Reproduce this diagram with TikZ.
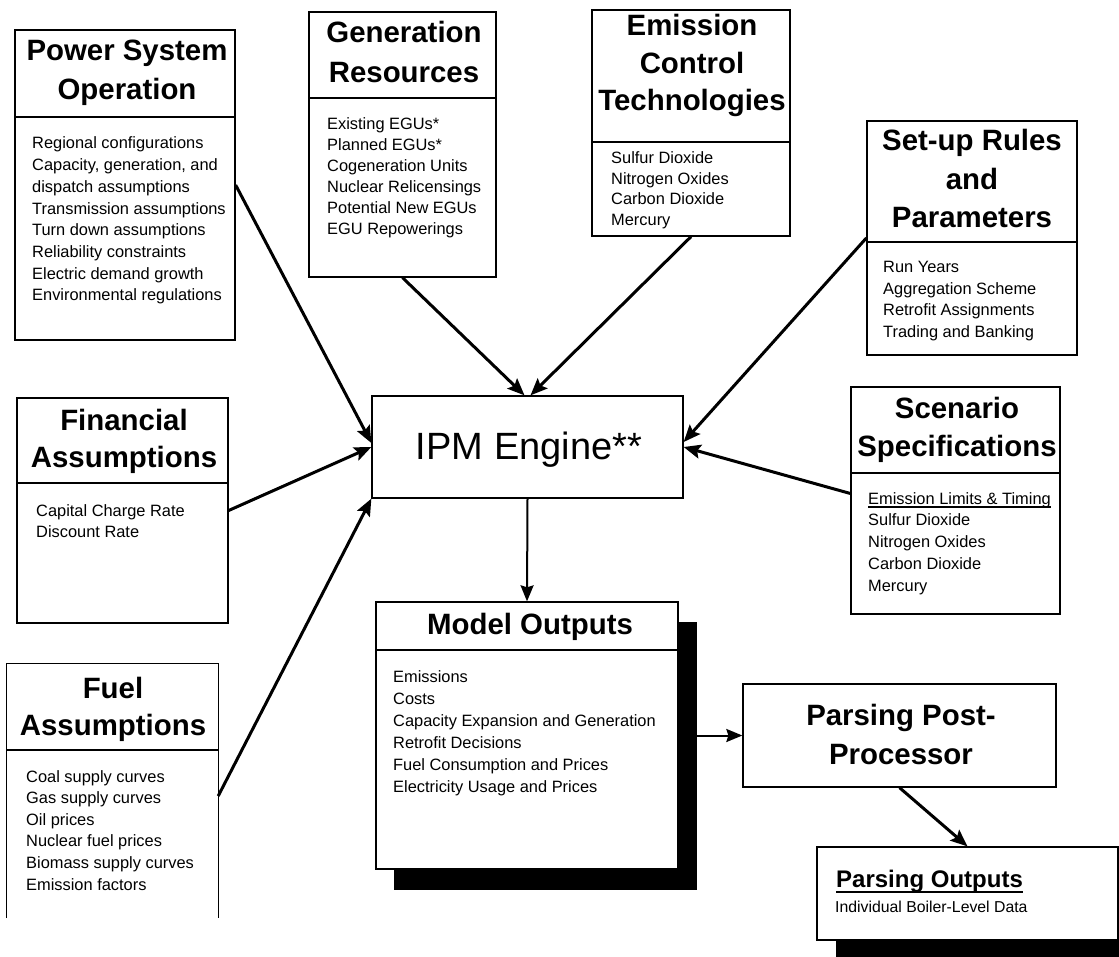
\documentclass[tikz,border=0pt]{standalone}
\usepackage{fontspec}
\setmainfont{Liberation Sans}
\usetikzlibrary{arrows.meta}
\newcommand\bodysz{\fontsize{16.4}{21.7}\selectfont}
\newcommand\titlesz{\fontsize{29.4}{39}\selectfont\bfseries}
\tikzset{
  box/.style={draw, line width=1.3pt, fill=white, rectangle, inner sep=0pt},
  openbox/.style={draw=none, rectangle, inner sep=0pt},
  shadowbox/.style={fill=black, draw=none, rectangle, inner sep=0pt},
  ttl/.style={anchor=base, inner sep=0pt, font=\titlesz},
  bodytxt/.style={anchor=base west, inner sep=0pt, font=\bodysz},
  divider/.style={line width=1.3pt},
  conn/.style={line width=3pt, -{Stealth[length=17pt,width=14pt,inset=3pt]}},
  thinconn/.style={line width=2pt, -{Stealth[length=16pt,width=13pt,inset=2pt]}}
}
\begin{document}
\begin{tikzpicture}[x=1pt,y=-1pt]
\fill[white] (0,0) rectangle (1119,957);
\useasboundingbox (0,0) rectangle (1119,957);

% ---------- shadows ----------
\node[shadowbox, minimum width=303pt, minimum height=268pt] (modelsh) at (545.5,756) {};
\node[shadowbox, minimum width=283pt, minimum height=90pt] (poutsh) at (977.5,912) {};

% ---------- Power System Operation ----------
\node[box, minimum width=220pt, minimum height=310pt] (pso) at (125,185) {};
\draw[divider] (pso.west |- 0,117) -- (pso.east |- 0,117);
\node[ttl] (pso-t1) at (127,61) {Power System};
\node[ttl] (pso-t2) at (127,100) {Operation};
\foreach \t [count=\i] in {Regional configurations,{Capacity, generation, and},dispatch assumptions,Transmission assumptions,Turn down assumptions,Reliability constraints,Electric demand growth,Environmental regulations}
  \node[bodytxt] (pso-\i) at (32,{149+21.7*(\i-1)}) {\t};

% ---------- Generation Resources ----------
\node[box, minimum width=187pt, minimum height=265pt] (gen) at (402.5,144.5) {};
\draw[divider] (gen.west |- 0,98) -- (gen.east |- 0,98);
\node[ttl] (gen-t1) at (404,43) {Generation};
\node[ttl] (gen-t2) at (404,83) {Resources};
\foreach \t [count=\i] in {Existing EGUs*,Planned EGUs*,Cogeneration Units,Nuclear Relicensings,Potential New EGUs,EGU Repowerings}
  \node[bodytxt] (gen-\i) at (327,{130+21*(\i-1)}) {\t};

% ---------- Emission Control Technologies ----------
\node[box, minimum width=198pt, minimum height=226pt] (emc) at (691,123) {};
\draw[divider] (emc.west |- 0,142) -- (emc.east |- 0,142);
\node[ttl] (emc-t1) at (692,36) {Emission};
\node[ttl] (emc-t2) at (692,74) {Control};
\node[ttl] (emc-t3) at (692,111) {Technologies};
\foreach \t [count=\i] in {Sulfur Dioxide,Nitrogen Oxides,Carbon Dioxide,Mercury}
  \node[bodytxt] (emc-\i) at (611,{164+20.5*(\i-1)}) {\t};

% ---------- Set-up Rules and Parameters ----------
\node[box, minimum width=210pt, minimum height=234pt] (setup) at (972,238) {};
\draw[divider] (setup.west |- 0,242) -- (setup.east |- 0,242);
\node[ttl] (setup-t1) at (972,151) {Set-up Rules};
\node[ttl] (setup-t2) at (972,190) {and};
\node[ttl] (setup-t3) at (972,228) {Parameters};
\foreach \t [count=\i] in {Run Years,Aggregation Scheme,Retrofit Assignments,Trading and Banking}
  \node[bodytxt] (setup-\i) at (883,{273+21.5*(\i-1)}) {\t};

% ---------- Financial Assumptions ----------
\node[box, minimum width=211pt, minimum height=225pt] (fin) at (122.5,510.5) {};
\draw[divider] (fin.west |- 0,483) -- (fin.east |- 0,483);
\node[ttl] (fin-t1) at (124,430) {Financial};
\node[ttl] (fin-t2) at (124,467) {Assumptions};
\foreach \t [count=\i] in {Capital Charge Rate,Discount Rate}
  \node[bodytxt] (fin-\i) at (36,{516+21.5*(\i-1)}) {\t};

% ---------- Fuel Assumptions (cut off at bottom) ----------
\node[openbox, minimum width=211pt, minimum height=254pt] (fuel) at (112.5,791) {};
\draw[line width=1.3pt] (fuel.south west) -- (fuel.north west) -- (fuel.north east) -- (fuel.south east);
\draw[divider] (fuel.west |- 0,750) -- (fuel.east |- 0,750);
\node[ttl] (fuel-t1) at (113,698) {Fuel};
\node[ttl] (fuel-t2) at (113,735) {Assumptions};
\foreach \t [count=\i] in {Coal supply curves,Gas supply curves,Oil prices,Nuclear fuel prices,Biomass supply curves,Emission factors}
  \node[bodytxt] (fuel-\i) at (26,{782+21.6*(\i-1)}) {\t};

% ---------- IPM Engine ----------
\node[box, minimum width=311pt, minimum height=102pt] (ipm) at (527.5,447) {};
\node[anchor=base, inner sep=0pt, font=\fontsize{38}{44}\selectfont] (ipm-t) at (529,459) {IPM Engine**};

% ---------- Scenario Specifications ----------
\node[box, minimum width=209pt, minimum height=227pt] (scen) at (955.5,500.5) {};
\draw[divider] (scen.west |- 0,473) -- (scen.east |- 0,473);
\node[ttl] (scen-t1) at (957,418) {Scenario};
\node[ttl] (scen-t2) at (957,456) {Specifications};
\node[bodytxt] (scen-0) at (868,504) {Emission Limits \& Timing};
\draw[line width=1.1pt] ([yshift=-3pt]scen-0.base west) -- ([yshift=-3pt]scen-0.base east);
\foreach \t [count=\i] in {Sulfur Dioxide,Nitrogen Oxides,Carbon Dioxide,Mercury}
  \node[bodytxt] (scen-\i) at (868,{504+21.9*\i}) {\t};

% ---------- Model Outputs ----------
\node[box, minimum width=302pt, minimum height=267pt] (model) at (527,735.5) {};
\draw[divider] (model.west |- 0,650) -- (model.east |- 0,650);
\node[ttl] (model-t) at (530,634) {Model Outputs};
\foreach \t [count=\i] in {Emissions,Costs,Capacity Expansion and Generation,Retrofit Decisions,Fuel Consumption and Prices,Electricity Usage and Prices}
  \node[bodytxt] (model-\i) at (393,{682+22*(\i-1)}) {\t};

% ---------- Parsing Post-Processor ----------
\node[box, minimum width=313pt, minimum height=103pt] (pp) at (899.5,735.5) {};
\node[ttl] (pp-t1) at (901,725) {Parsing Post-};
\node[ttl] (pp-t2) at (901,764) {Processor};

% ---------- Parsing Outputs ----------
\node[box, minimum width=301pt, minimum height=93pt] (pout) at (967.5,893.5) {};
\node[anchor=base west, inner sep=0pt, font=\fontsize{24}{28}\selectfont\bfseries] (pout-t) at (836,887) {Parsing Outputs};
\draw[line width=1.6pt] ([yshift=-5pt]pout-t.base west) -- ([yshift=-5pt]pout-t.base east);
\node[anchor=base west, inner sep=0pt, font=\fontsize{15.8}{20}\selectfont] (pout-1) at (835,912) {Individual Boiler-Level Data};

% ---------- connectors ----------
\draw[conn] (pso.east) -- ([yshift=4pt]ipm.west);
\draw[conn] (fin.east) -- (ipm.west);
\draw[conn] ([yshift=-5pt]fuel.east) -- (ipm.south west);
\draw[conn] (gen.south) -- ([xshift=-3pt]ipm.north);
\draw[conn] (emc.south) -- ([xshift=3pt]ipm.north);
\draw[conn] (setup.west) -- ([yshift=5pt]ipm.east);
\draw[conn] ([yshift=7pt]scen.west) -- (ipm.east);
\draw[thinconn] (ipm.south) -- (model.north);
\draw[thinconn] (pp.west -| modelsh.east) -- (pp.west);
\draw[conn] (pp.south) -- (pout.north);
\end{tikzpicture}
\end{document}
